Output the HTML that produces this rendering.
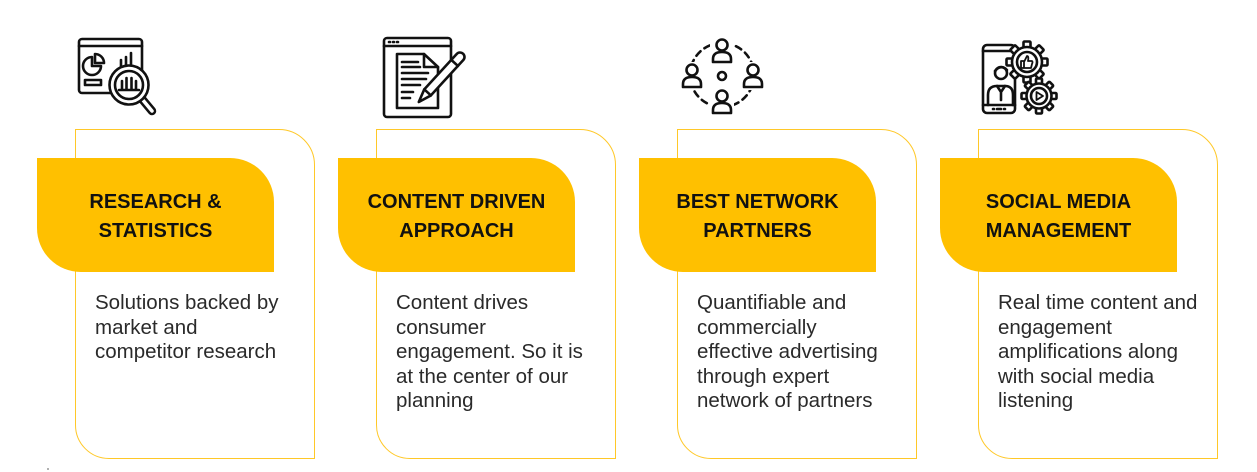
<!DOCTYPE html>
<html>
<head>
<meta charset="utf-8">
<style>
  html,body{margin:0;padding:0;background:#fff;}
  body{width:1257px;height:472px;position:relative;overflow:hidden;}
  .card{position:absolute;top:129px;width:240px;height:330px;box-sizing:border-box;
        border:1.8px solid #FFC828;border-radius:0 36px 0 34px;background:#fff;}
  .tab{position:absolute;top:158px;width:237px;height:114px;background:#FFC000;
       border-radius:0 44px 0 44px;display:flex;align-items:center;justify-content:center;
       text-align:center;font-family:"Liberation Sans",sans-serif;font-weight:bold;
       font-size:20px;line-height:28.5px;color:#111;padding-top:3px;box-sizing:border-box;}
  .body{position:absolute;top:291px;font-family:"Liberation Sans",Arial,sans-serif;
        font-size:20.5px;line-height:24.5px;color:#2a2a2a;white-space:nowrap;}
  svg{position:absolute;left:0;top:0;}
</style>
</head>
<body>

<div class="card" style="left:75px;"></div>
<div class="card" style="left:376px;"></div>
<div class="card" style="left:677px;"></div>
<div class="card" style="left:978px;"></div>

<div class="tab" style="left:37px;">RESEARCH &amp;<br>STATISTICS</div>
<div class="tab" style="left:338px;">CONTENT DRIVEN<br>APPROACH</div>
<div class="tab" style="left:639px;">BEST NETWORK<br>PARTNERS</div>
<div class="tab" style="left:940px;">SOCIAL MEDIA<br>MANAGEMENT</div>

<div class="body" style="left:95px;">Solutions backed by<br>market and<br>competitor research</div>
<div class="body" style="left:396px;">Content drives<br>consumer<br>engagement. So it is<br>at the center of our<br>planning</div>
<div class="body" style="left:697px;">Quantifiable and<br>commercially<br>effective advertising<br>through expert<br>network of partners</div>
<div class="body" style="left:998px;">Real time content and<br>engagement<br>amplifications along<br>with social media<br>listening</div>

<svg width="1257" height="472" viewBox="0 0 1257 472" xmlns="http://www.w3.org/2000/svg">
  <g fill="none" stroke="#111" stroke-width="2.6" stroke-linecap="round" stroke-linejoin="round">

    <!-- Icon 1: research -->
    <rect x="79" y="39" width="63" height="54" rx="3" fill="#fff"/>
    <line x1="79" y1="46" x2="142" y2="46"/>
    <path d="M92 57 A9 9 0 1 0 101 66 L92 66 Z"/>
    <path d="M95 54 A9 9 0 0 1 104 63 L95 63 Z"/>
    <rect x="85" y="80" width="16" height="5"/>
    <path d="M121 67 V60 M126 67 V57 M131 67 V53"/>
    <line x1="142" y1="99" x2="152" y2="111" stroke-width="8.5"/>
    <line x1="142" y1="99" x2="152" y2="111" stroke-width="3.5" stroke="#fff"/>
    <circle cx="129" cy="85" r="19.5" fill="#fff"/>
    <circle cx="129" cy="85" r="14"/>
    <path d="M122 89 V81 M126.5 89 V78 M131.5 89 V78 M136 89 V81 M119 90 H139"/>

    <!-- Icon 2: content -->
    <rect x="384" y="38" width="67" height="79" rx="3" fill="#fff"/>
    <line x1="384" y1="46" x2="451" y2="46"/>
    <path d="M389 42 h1 M393 42 h1 M397 42 h1"/>
    <path d="M397 54 H424 L438 67 V108 H397 Z" fill="#fff"/>
    <path d="M424 54 V67 H438"/>
    <path d="M402 62 H418 M402 67 H420 M402 73 H428 M402 79 H426 M402 85 H420 M402 92 H413 M402 98 H410"/>
    <g transform="translate(460,57) rotate(132.5)">
      <path d="M0 -4.5 H48 L61 0 L48 4.5 H0 A4.5 4.5 0 0 1 0 -4.5 Z" fill="#fff"/>
      <path d="M8 -4.5 V4.5 M48 -4.5 V4.5"/>
    </g>

    <!-- Icon 3: network -->
    <circle cx="722" cy="75" r="32" stroke-dasharray="6 5"/>
    <g fill="#fff" stroke="none">
      <rect x="710" y="37" width="24" height="28"/>
      <rect x="680" y="62" width="24" height="28"/>
      <rect x="741" y="62" width="24" height="28"/>
      <rect x="710" y="88" width="24" height="28"/>
    </g>
    <g fill="#fff">
      <circle cx="722" cy="45" r="5.5"/>
      <path d="M713 62 V59 Q713 52 722 52 Q731 52 731 59 V62 Z"/>
      <circle cx="692" cy="70" r="5.5"/>
      <path d="M683 87 V84 Q683 77 692 77 Q701 77 701 84 V87 Z"/>
      <circle cx="753" cy="70" r="5.5"/>
      <path d="M744 87 V84 Q744 77 753 77 Q762 77 762 84 V87 Z"/>
      <circle cx="722" cy="96" r="5.5"/>
      <path d="M713 113 V110 Q713 103 722 103 Q731 103 731 110 V113 Z"/>
    </g>
    <circle cx="722" cy="76" r="4"/>

    <!-- Icon 4: social media -->
    <rect x="983" y="45" width="32" height="68" rx="4" fill="#fff"/>
    <line x1="983" y1="51" x2="1015" y2="51"/>
    <line x1="983" y1="105" x2="1015" y2="105"/>
    <path d="M993 109 h1 M997 109 h4 M1004 109 h1"/>
    <circle cx="1001" cy="73" r="6"/>
    <path d="M995 71 Q1001 64 1007 70"/>
    <path d="M988 105 V95 Q988 86 997 86 H1005 Q1013 86 1013 95 V105"/>
    <path d="M997 86 L1001 92 L1005 86 M1001 92 V100"/>
    <g transform="translate(1027,62)" fill="#fff">
      <rect x="-3.5" y="-20.5" width="7" height="8" rx="1"/>
      <rect x="-3.5" y="-20.5" width="7" height="8" rx="1" transform="rotate(45)"/>
      <rect x="-3.5" y="-20.5" width="7" height="8" rx="1" transform="rotate(90)"/>
      <rect x="-3.5" y="-20.5" width="7" height="8" rx="1" transform="rotate(135)"/>
      <rect x="-3.5" y="-20.5" width="7" height="8" rx="1" transform="rotate(180)"/>
      <rect x="-3.5" y="-20.5" width="7" height="8" rx="1" transform="rotate(225)"/>
      <rect x="-3.5" y="-20.5" width="7" height="8" rx="1" transform="rotate(270)"/>
      <rect x="-3.5" y="-20.5" width="7" height="8" rx="1" transform="rotate(315)"/>
      <circle r="15"/>
      <circle r="10"/>
      <path d="M-6 -1 H-3 V6 H-6 Z M-3 0 L0 -6 Q2 -6 1 -1 H5 Q6 0 5 2 L4 6 H-3" fill="none" stroke-width="1.8"/>
    </g>
    <g transform="translate(1039,96)" fill="#fff">
      <rect x="-3" y="-17.5" width="6" height="7" rx="1"/>
      <rect x="-3" y="-17.5" width="6" height="7" rx="1" transform="rotate(45)"/>
      <rect x="-3" y="-17.5" width="6" height="7" rx="1" transform="rotate(90)"/>
      <rect x="-3" y="-17.5" width="6" height="7" rx="1" transform="rotate(135)"/>
      <rect x="-3" y="-17.5" width="6" height="7" rx="1" transform="rotate(180)"/>
      <rect x="-3" y="-17.5" width="6" height="7" rx="1" transform="rotate(225)"/>
      <rect x="-3" y="-17.5" width="6" height="7" rx="1" transform="rotate(270)"/>
      <rect x="-3" y="-17.5" width="6" height="7" rx="1" transform="rotate(315)"/>
      <circle r="12.5"/>
      <circle r="8"/>
      <path d="M-2.5 -4 L4 0 L-2.5 4 Z" fill="none" stroke-width="1.8"/>
    </g>
  </g>
  <circle cx="48" cy="469" r="1" fill="#999"/>
</svg>

</body>
</html>
